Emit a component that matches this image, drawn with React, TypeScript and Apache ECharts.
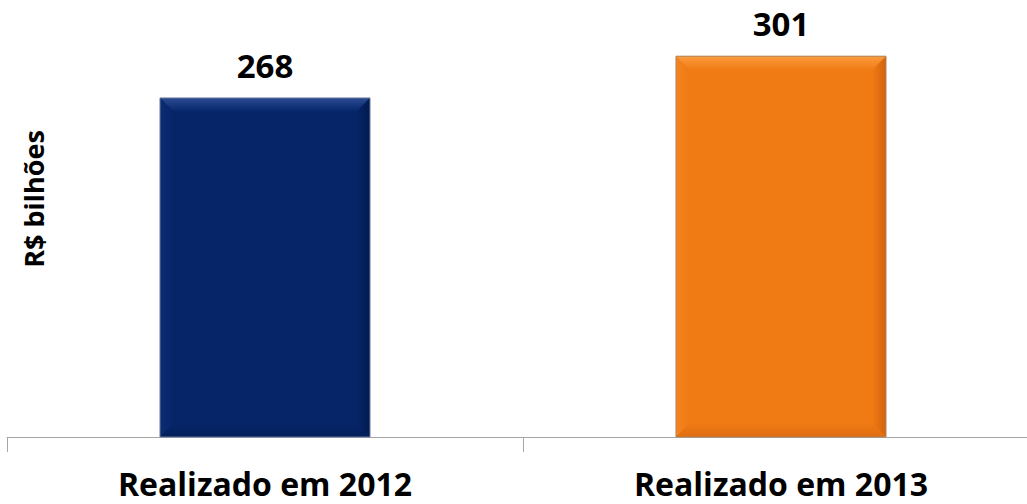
import React, { useEffect, useRef } from "react";
import * as echarts from "echarts";

const categories = ["Realizado em 2012", "Realizado em 2013"];
const values = [268, 301];
const axisTitle = "R$ bilhões";

const palettes = [
  { base: "#062569", light: "#2a4b93", left: "#0b2c72", right: "#021a4f", bottom: "#041f5a", edge: "#6d7b9c" },
  { base: "#F07A14", light: "#FB9C3E", left: "#F38421", right: "#D2630C", bottom: "#DF6D10", edge: "#b0855c" },
];

const FONT = '"Open Sans", "Noto Sans", sans-serif';

export default function App() {
  const ref = useRef<HTMLDivElement>(null);
  useEffect(() => {
    if (!ref.current) return;
    const chart = echarts.init(ref.current, undefined, { renderer: "svg" });
    const lg = (x1: number, y1: number, x2: number, y2: number, a: string, b: string) =>
      new echarts.graphic.LinearGradient(x1, y1, x2, y2, [
        { offset: 0, color: a },
        { offset: 1, color: b },
      ]);
    chart.setOption({
      animation: false,
      backgroundColor: "#ffffff",
      grid: { left: 7, top: 19.5, right: 6, height: 417.5, containLabel: false },
      xAxis: {
        type: "category",
        data: categories,
        axisLine: { lineStyle: { color: "#a6a6a6", width: 1 } },
        axisTick: { show: true, length: 15, lineStyle: { color: "#a6a6a6" } },
        axisLabel: {
          color: "#000",
          fontFamily: FONT,
          fontWeight: "bold",
          fontSize: 32,
          margin: 30,
        },
      },
      yAxis: { type: "value", min: 0, max: 330, show: false },
      graphic: [
        {
          type: "text",
          x: 33,
          y: 199,
          rotation: Math.PI / 2,
          style: {
            text: axisTitle,
            font: `bold 27px ${FONT}`,
            fill: "#000",
            align: "center",
            verticalAlign: "middle",
          },
        },
      ],
      series: [
        {
          type: "custom",
          data: values.map((v, i) => [i, v]),
          renderItem: (params: any, api: any) => {
            const idx = api.value(0);
            const val = api.value(1);
            const top = api.coord([idx, val]);
            const base = api.coord([idx, 0]);
            const w = api.size([1, 0])[0] * 0.407;
            const x0 = top[0] - w / 2;
            const x1 = top[0] + w / 2;
            const y0 = top[1];
            const y1 = base[1];
            const b = 14;
            const c = palettes[idx];
            return {
              type: "group",
              children: [
                {
                  type: "rect",
                  shape: { x: x0, y: y0, width: w, height: y1 - y0 },
                  style: { fill: c.base },
                },
                {
                  type: "polygon",
                  shape: { points: [[x0, y0], [x1, y0], [x1 - b, y0 + b], [x0 + b, y0 + b]] },
                  style: { fill: lg(0, 0, 0, 1, c.light, c.base) },
                },
                {
                  type: "polygon",
                  shape: { points: [[x0, y0], [x0 + b, y0 + b], [x0 + b, y1 - b], [x0, y1]] },
                  style: { fill: lg(0, 0, 1, 0, c.left, c.base) },
                },
                {
                  type: "polygon",
                  shape: { points: [[x1, y0], [x1, y1], [x1 - b, y1 - b], [x1 - b, y0 + b]] },
                  style: { fill: lg(1, 0, 0, 0, c.right, c.base) },
                },
                {
                  type: "polygon",
                  shape: { points: [[x0, y1], [x1, y1], [x1 - b, y1 - b], [x0 + b, y1 - b]] },
                  style: { fill: lg(0, 1, 0, 0, c.bottom, c.base) },
                },
                {
                  type: "rect",
                  shape: { x: x0, y: y0, width: w, height: y1 - y0 },
                  style: { fill: "none", stroke: c.edge, lineWidth: 1 },
                },
                {
                  type: "text",
                  x: top[0],
                  y: y0 - 16,
                  style: {
                    text: String(val),
                    font: `bold 33px ${FONT}`,
                    fill: "#000",
                    align: "center",
                    verticalAlign: "bottom",
                  },
                },
              ],
            };
          },
        },
      ],
    });
    return () => chart.dispose();
  }, []);
  return (
    <div
      style={{
        position: "fixed",
        left: 0,
        top: 0,
        width: 1027,
        height: 504,
        overflow: "hidden",
        background: "#fff",
      }}
    >
      <div ref={ref} style={{ width: 1045, height: 504 }} />
    </div>
  );
}
